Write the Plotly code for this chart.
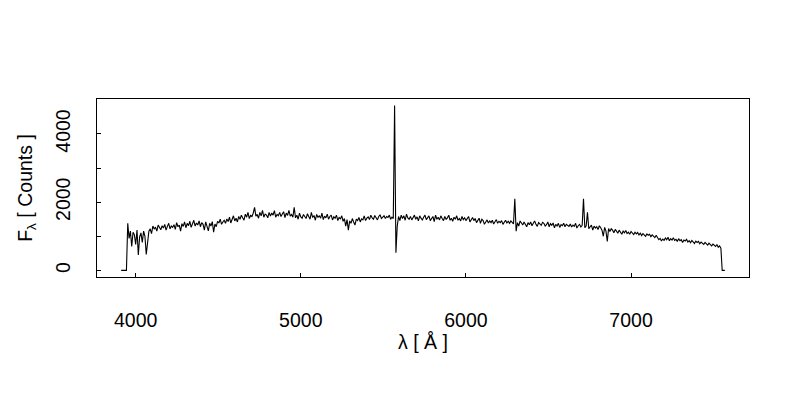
import plotly.graph_objects as go

# Spectrum sampled on a regular wavelength grid (Angstrom)
WAVE_START = 3912
WAVE_STEP = 8

# Flux values [Counts], 10 samples per row (80 A per row)
flux = [
    0, 0, 0, 0, 0, 1380, 940, 1150, 700, 1120,
    1050, 760, 1180, 450, 980, 1100, 820, 1150, 1000, 470,
    900, 1150, 1220, 1080, 1300, 1210, 1270, 1150, 1330, 1250,
    1190, 1310, 1240, 1350, 1180, 1290, 1380, 1220, 1300, 1260,
    1340, 1200, 1400, 1280, 1330, 1150, 1370, 1290, 1420, 1250,
    1380, 1310, 1440, 1260, 1350, 1470, 1300, 1390, 1330, 1450,
    1280, 1400, 1350, 1180, 1420, 1310, 1160, 1380, 1300, 1430,
    1120, 1360, 1280, 1440, 1390, 1500, 1350, 1420, 1470, 1380,
    1510, 1430, 1560, 1390, 1480, 1600, 1450, 1530, 1420, 1580,
    1500, 1620, 1540, 1470, 1650, 1560, 1700, 1520, 1610, 1580,
    1680, 1850, 1590, 1640, 1530, 1700, 1600, 1760, 1560, 1650,
    1620, 1540, 1700, 1590, 1680, 1620, 1750, 1560, 1640, 1600,
    1700, 1580, 1650, 1720, 1550, 1680, 1610, 1760, 1590, 1640,
    1560, 1850, 1540, 1620, 1500, 1680, 1570, 1530, 1640, 1590,
    1520, 1660, 1580, 1500, 1700, 1550, 1610, 1470, 1640, 1560,
    1600, 1530, 1680, 1490, 1590, 1540, 1650, 1500, 1580, 1620,
    1480, 1570, 1530, 1620, 1460, 1550, 1510, 1600, 1440, 1520,
    1300, 1490, 1180, 1450, 1380, 1520, 1420, 1330, 1500, 1460,
    1550, 1420, 1510, 1480, 1600, 1460, 1530, 1570, 1490, 1620,
    1540, 1500, 1610, 1560, 1480, 1580, 1630, 1520, 1560, 1600,
    1520, 1580, 1550, 1620, 1500, 1560, 1520, 4830, 520, 1300,
    1580, 1460, 1620, 1520, 1600, 1470, 1650, 1540, 1500, 1580,
    1480, 1560, 1620, 1500, 1570, 1450, 1600, 1530, 1480, 1560,
    1620, 1490, 1550, 1600, 1460, 1540, 1580, 1430, 1620, 1500,
    1560, 1480, 1600, 1520, 1460, 1580, 1500, 1540, 1620, 1470,
    1530, 1440, 1560, 1500, 1600, 1470, 1520, 1450, 1580, 1490,
    1540, 1460, 1510, 1580, 1420, 1500, 1550, 1460, 1520, 1400,
    1480, 1530, 1380, 1500, 1460, 1350, 1420, 1480, 1390, 1450,
    1400, 1470, 1360, 1430, 1490, 1380, 1440, 1400, 1460, 1350,
    1420, 1470, 1390, 1440, 1380, 1450, 1410, 1360, 2100, 1150,
    1400, 1300, 1450, 1380, 1330, 1420, 1360, 1280, 1400, 1340,
    1420, 1310, 1380, 1450, 1350, 1290, 1400, 1360, 1320, 1410,
    1380, 1300, 1340, 1420, 1280, 1370, 1320, 1390, 1250, 1350,
    1300, 1380, 1260, 1340, 1310, 1380, 1280, 1350, 1320, 1290,
    1360, 1270, 1330, 1290, 1380, 1240, 1310, 1350, 1270, 1320,
    2100, 1250, 1300, 1700, 1220, 1280, 1330, 1180, 1300, 1240,
    1280, 1200, 1310, 1250, 1180, 1000, 1260, 1150, 850, 1230,
    1140, 1220, 1180, 1100, 1200, 1150, 1090, 1180, 1130, 1060,
    1150, 1100, 1170, 1080, 1120, 1060, 1140, 1090, 1050, 1120,
    1070, 1110, 1040, 1090, 1020, 1080, 1050, 1000, 1070, 1030,
    1060, 990, 1040, 1010, 960, 1030, 980, 900, 940, 860,
    920, 880, 950, 900, 970, 870, 930, 890, 960, 880,
    910, 850, 930, 870, 900, 820, 890, 860, 910, 830,
    870, 810, 880, 840, 790, 860, 820, 850, 780, 830,
    800, 760, 820, 770, 740, 800, 750, 720, 770, 730,
    700, 760, 680, 720, 650, 0, 0, 0,
]

x_ticks = [4000, 5000, 6000, 7000]
y_ticks = [0, 1000, 2000, 3000, 4000]
y_tick_labels = ["0", " ", "2000", " ", "4000"]

wave = [WAVE_START + WAVE_STEP * i for i in range(len(flux))]

# R-style 4% axis padding
xmin, xmax = min(wave), max(wave)
ymin, ymax = min(flux), max(flux)
xpad = 0.04 * (xmax - xmin)
ypad = 0.04 * (ymax - ymin)

font_family = "Liberation Sans, Arial, sans-serif"
FS = 19.5

fig = go.Figure()
fig.add_trace(go.Scatter(
    x=wave, y=flux, mode="lines",
    line=dict(color="black", width=1.1),
    showlegend=False, hoverinfo="skip",
))

fig.update_layout(
    width=800, height=400,
    margin=dict(l=89, r=59, t=91, b=131),
    paper_bgcolor="white", plot_bgcolor="white",
    font=dict(family=font_family, size=FS, color="black"),
    xaxis=dict(
        range=[xmin - xpad, xmax + xpad],
        tickmode="array", tickvals=x_ticks, ticktext=[str(v) for v in x_ticks],
        ticks="inside", ticklen=4, tickcolor="black", tickwidth=1,
        showline=True, linecolor="black", linewidth=1, mirror=True,
        showgrid=False, zeroline=False,
        ticklabelstandoff=26,
        title=dict(text="λ [ Å ]", standoff=0, font=dict(size=FS)),
        tickfont=dict(size=FS),
    ),
    yaxis=dict(
        range=[ymin - ypad, ymax + ypad],
        tickmode="array", tickvals=y_ticks, ticktext=y_tick_labels,
        ticks="inside", ticklen=4, tickcolor="black", tickwidth=1,
        showline=True, linecolor="black", linewidth=1, mirror=True,
        showgrid=False, zeroline=False,
        tickangle=-90,
        ticklabelstandoff=18,
        title=dict(text="F<sub>λ</sub> [ Counts ]", standoff=14, font=dict(size=FS)),
        tickfont=dict(size=FS),
    ),
)

fig.write_html("out.html")
